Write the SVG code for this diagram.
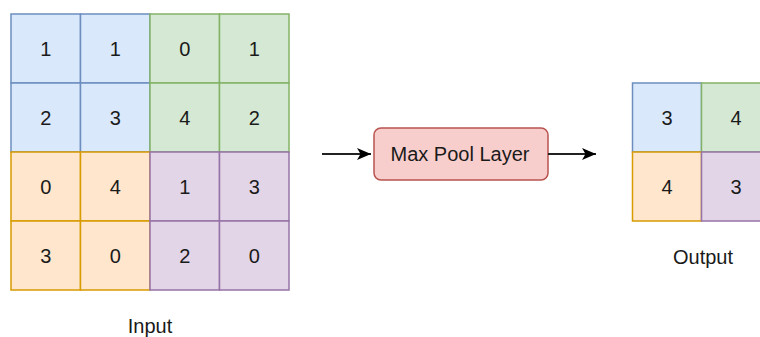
<svg xmlns="http://www.w3.org/2000/svg" width="760" height="337" viewBox="0 0 760 337">
  <style>
    text { font-family: "Liberation Sans", Arial, Helvetica, sans-serif; fill: #1a1a1a; }
    .num { font-size: 20px; text-anchor: middle; }
    .lbl { font-size: 20px; text-anchor: middle; }
    .blue { fill: #dae8fc; stroke: #6c8ebf; stroke-width: 1.5; }
    .green { fill: #d5e8d4; stroke: #82b366; stroke-width: 1.5; }
    .orange { fill: #ffe6cc; stroke: #d79b00; stroke-width: 1.5; }
    .purple { fill: #e1d5e7; stroke: #9673a6; stroke-width: 1.5; }
    .red { fill: #f8cecc; stroke: #b85450; stroke-width: 1.5; }
    .edge { fill: none; stroke: #222; stroke-width: 2; }
  </style>
  <defs>
    <marker id="arrow" viewBox="0 0 14 12" refX="14" refY="6" markerWidth="14" markerHeight="12" markerUnits="userSpaceOnUse" orient="auto">
      <path d="M0,0 L14,6 L0,12 L3.5,6 Z" fill="#000"/>
    </marker>
  </defs>
  <rect width="760" height="337" fill="#ffffff"/>

  <!-- 4x4 input feature map -->
  <g id="input">
    <g id="in-r0c0"><rect class="blue" x="11" y="14" width="69.5" height="69"/><text class="num" x="45.75" y="56">1</text></g>
    <g id="in-r0c1"><rect class="blue" x="80.5" y="14" width="69.5" height="69"/><text class="num" x="115.25" y="56">1</text></g>
    <g id="in-r1c0"><rect class="blue" x="11" y="83" width="69.5" height="69"/><text class="num" x="45.75" y="125">2</text></g>
    <g id="in-r1c1"><rect class="blue" x="80.5" y="83" width="69.5" height="69"/><text class="num" x="115.25" y="125">3</text></g>

    <g id="in-r0c2"><rect class="green" x="150" y="14" width="69.5" height="69"/><text class="num" x="184.75" y="56">0</text></g>
    <g id="in-r0c3"><rect class="green" x="219.5" y="14" width="69.5" height="69"/><text class="num" x="254.25" y="56">1</text></g>
    <g id="in-r1c2"><rect class="green" x="150" y="83" width="69.5" height="69"/><text class="num" x="184.75" y="125">4</text></g>
    <g id="in-r1c3"><rect class="green" x="219.5" y="83" width="69.5" height="69"/><text class="num" x="254.25" y="125">2</text></g>

    <g id="in-r2c0"><rect class="orange" x="11" y="152" width="69.5" height="69"/><text class="num" x="45.75" y="194">0</text></g>
    <g id="in-r2c1"><rect class="orange" x="80.5" y="152" width="69.5" height="69"/><text class="num" x="115.25" y="194">4</text></g>
    <g id="in-r3c0"><rect class="orange" x="11" y="221" width="69.5" height="69"/><text class="num" x="45.75" y="263">3</text></g>
    <g id="in-r3c1"><rect class="orange" x="80.5" y="221" width="69.5" height="69"/><text class="num" x="115.25" y="263">0</text></g>

    <g id="in-r2c2"><rect class="purple" x="150" y="152" width="69.5" height="69"/><text class="num" x="184.75" y="194">1</text></g>
    <g id="in-r2c3"><rect class="purple" x="219.5" y="152" width="69.5" height="69"/><text class="num" x="254.25" y="194">3</text></g>
    <g id="in-r3c2"><rect class="purple" x="150" y="221" width="69.5" height="69"/><text class="num" x="184.75" y="263">2</text></g>
    <g id="in-r3c3"><rect class="purple" x="219.5" y="221" width="69.5" height="69"/><text class="num" x="254.25" y="263">0</text></g>
  </g>
  <g id="input-label"><text class="lbl" x="150" y="333">Input</text></g>

  <!-- pooling layer -->
  <g id="maxpool">
    <rect class="red" x="374" y="128" width="174" height="52" rx="7" ry="7"/>
    <text class="lbl" x="460" y="161">Max Pool Layer</text>
  </g>

  <!-- 2x2 output feature map -->
  <g id="output">
    <g id="out-r0c0"><rect class="blue" x="632.5" y="83" width="69" height="69"/><text class="num" x="667" y="125">3</text></g>
    <g id="out-r0c1"><rect class="green" x="701.5" y="83" width="69" height="69"/><text class="num" x="736" y="125">4</text></g>
    <g id="out-r1c0"><rect class="orange" x="632.5" y="152" width="69" height="69"/><text class="num" x="667" y="194">4</text></g>
    <g id="out-r1c1"><rect class="purple" x="701.5" y="152" width="69" height="69"/><text class="num" x="736" y="194">3</text></g>
  </g>
  <g id="output-label"><text class="lbl" x="703" y="264">Output</text></g>

  <!-- connectors -->
  <g id="edges">
    <line class="edge" x1="322" y1="154" x2="371" y2="154" marker-end="url(#arrow)"/>
    <line class="edge" x1="548" y1="154" x2="596" y2="154" marker-end="url(#arrow)"/>
  </g>
</svg>
